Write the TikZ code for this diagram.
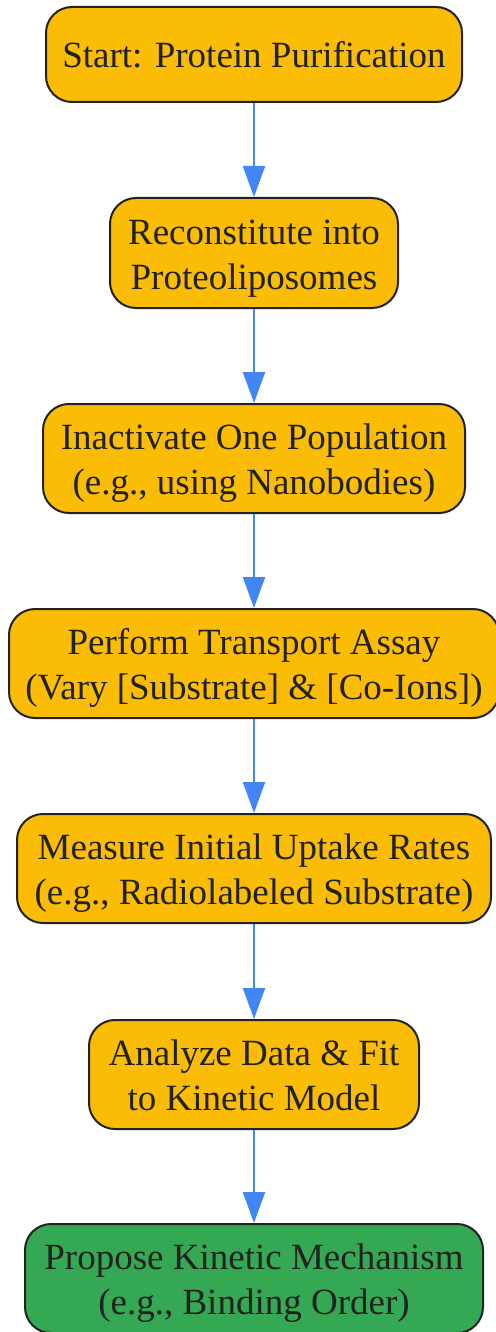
\documentclass[tikz,border=0pt]{standalone}
\usepackage{fontspec}
\setmainfont{Liberation Serif}
\usetikzlibrary{arrows.meta}
\definecolor{boxorange}{HTML}{FABC05}
\definecolor{boxgreen}{HTML}{34A853}
\definecolor{flowblue}{HTML}{4285F4}
\definecolor{inkdark}{HTML}{222222}
\newcommand{\linestrut}{\rule[-9pt]{0pt}{45pt}}
\begin{document}
\begin{tikzpicture}[
    box/.style={draw=inkdark, line width=2pt, fill=boxorange, rounded corners=26pt,
        align=center, text=inkdark, font=\fontsize{37}{45}\selectfont, inner sep=0pt,
        execute at end node=\linestrut},
    flow/.style={-{Triangle[width=22pt,length=31pt]}, draw=flowblue, line width=2.2pt}
]
    \useasboundingbox (0pt,0pt) rectangle (495pt,-1332pt);
    % steps
    \node[box, minimum width=416pt, minimum height=95pt] (start) at (254pt,-54.5pt) {\linestrut Start: Protein Purification};
    \node[box, minimum width=288pt, minimum height=110pt] (recon) at (254pt,-253pt) {\linestrut Reconstitute into\\Proteoliposomes};
    \node[box, minimum width=422pt, minimum height=109pt] (inact) at (254pt,-458.5pt) {\linestrut Inactivate One Population\\(e.g., using Nanobodies)};
    \node[box, minimum width=490pt, minimum height=109pt] (assay) at (254pt,-663.5pt) {\linestrut Perform Transport Assay\\(Vary [Substrate] \& [Co-Ions])};
    \node[box, minimum width=474pt, minimum height=109pt] (measure) at (254pt,-868.5pt) {\linestrut Measure Initial Uptake Rates\\(e.g., Radiolabeled Substrate)};
    \node[box, minimum width=330pt, minimum height=109pt] (analyze) at (254pt,-1074.5pt) {\linestrut Analyze Data \& Fit\\to Kinetic Model};
    % final step
    \node[box, fill=boxgreen, minimum width=458pt, minimum height=109pt] (propose) at (254pt,-1278.5pt) {\linestrut Propose Kinetic Mechanism\\(e.g., Binding Order)};
    % arrows between steps
    \draw[flow] (start) -- (recon);
    \draw[flow] (recon) -- (inact);
    \draw[flow] (inact) -- (assay);
    \draw[flow] (assay) -- (measure);
    \draw[flow] (measure) -- (analyze);
    \draw[flow] (analyze) -- (propose);
\end{tikzpicture}
\end{document}
